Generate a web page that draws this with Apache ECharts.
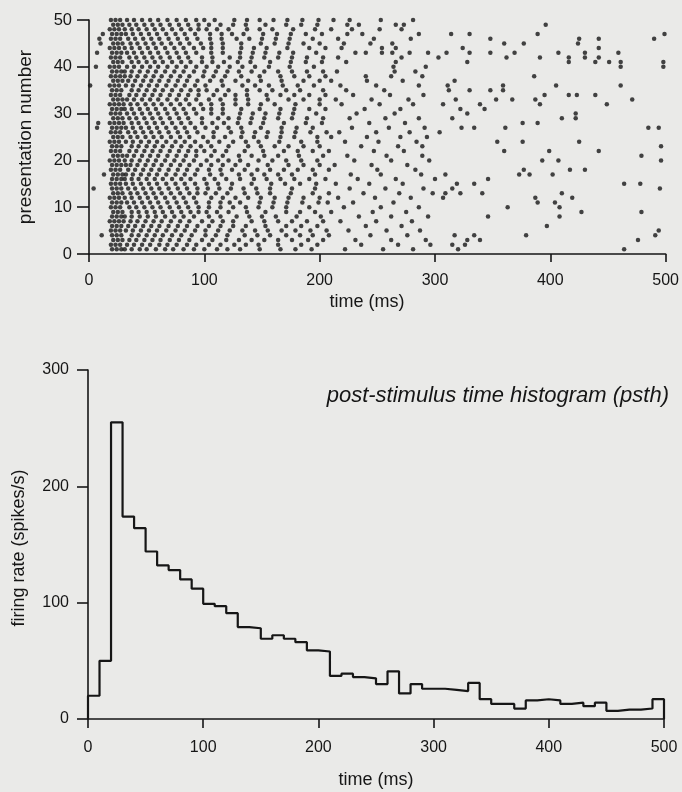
<!DOCTYPE html>
<html><head><meta charset="utf-8">
<script src="https://cdn.jsdelivr.net/npm/echarts@6/dist/echarts.min.js"></script>
<style>html,body{margin:0;padding:0;background:#eaeae8}#c{width:682px;height:792px}</style>
</head><body><div id="c"></div>
<script>
// ---------- DATA ----------
const timeTicks = [0, 100, 200, 300, 400, 500];
const presentationTicks = [0, 10, 20, 30, 40, 50];
const rateTicks = [0, 100, 200, 300];

// PSTH: 10 ms bins (start of each bin, ms) and firing rate (spikes/s)
const binStartsMs = [0,10,20,30,40,50,60,70,80,90,100,110,120,130,140,150,160,170,180,190,200,210,220,230,240,250,260,270,280,290,300,310,320,330,340,350,360,370,380,390,400,410,420,430,440,450,460,470,480,490];
const firingRate = [20,50,255,174,164,144,132,128,120,112,99,97,91,79,78,69,72,69,66,59,58,37,39,36,35,30,41,22,30,26,26,25,24,31,17,13,13,9,16,17,16,13,14,11,14,7,8,8,9,17];

// Raster: spike times (ms) for presentation numbers 1..50
const spikeTrains = [
[20,24,28,31,37,44,50,58,66,73,82,91,100,111,120,131,148,166,179,193,222,255,281,320,464],
[19,23,27,33,39,46,53,61,68,76,85,93,104,114,126,136,147,164,184,198,236,268,296,315,326],
[21,25,29,35,41,48,55,62,70,78,87,98,107,119,130,141,152,164,176,190,203,231,262,292,328,339,476],
[11,20,24,28,37,43,50,57,64,72,80,89,101,110,120,135,146,157,171,183,194,208,244,276,317,334,379,491],
[19,23,27,32,38,45,52,59,67,75,83,92,101,112,122,133,144,155,167,179,192,206,225,258,287,494],
[20,24,28,34,40,47,54,61,69,77,85,94,104,114,125,136,153,171,184,198,240,271,397],
[18,22,26,30,36,42,49,56,63,71,79,87,98,107,116,125,141,152,164,176,189,203,218,249,280],
[20,24,28,31,37,44,51,58,66,74,82,91,104,114,128,139,150,162,180,201,234,262,294,346,408],
[21,25,29,37,43,50,57,64,72,80,88,95,102,111,121,137,153,171,183,196,210,246,275,427,479],
[19,23,27,35,41,48,55,62,70,78,86,95,104,114,125,136,147,159,171,191,221,253,286,363,408],
[20,24,28,33,39,46,53,60,68,76,84,93,104,114,122,131,148,160,172,185,199,207,229,264,389,404],
[18,22,26,31,37,44,51,58,66,74,82,91,106,116,127,138,149,161,173,186,200,216,248,279,307,387,419],
[21,25,29,36,42,49,56,63,71,79,87,94,101,110,120,135,146,157,175,194,208,238,269,298,309,322,341,410],
[4,20,24,28,34,40,47,54,61,69,77,85,94,103,113,123,134,145,157,176,196,226,257,290,315,495],
[19,23,27,32,38,45,52,59,67,75,83,92,102,112,124,141,158,170,183,197,214,243,272,319,334,464,478],
[20,24,28,31,37,43,50,57,64,72,80,88,100,109,119,131,143,154,166,178,191,205,233,266,300,346],
[13,21,25,29,32,38,45,52,59,67,75,83,92,105,115,130,141,152,164,176,196,227,253,288,309,373,382,402],
[19,23,27,34,40,47,54,61,69,77,85,94,104,114,124,135,146,157,169,181,194,208,250,283,377,417,430],
[20,24,28,32,36,42,49,56,63,71,79,87,97,106,116,127,138,155,173,186,200,213,245,276],
[18,22,26,31,37,44,51,58,66,74,82,91,102,112,121,131,147,159,171,184,198,230,262,295,393,407,496],
[21,25,29,33,39,46,53,60,68,76,84,93,106,116,130,141,152,164,182,203,224,258,289,479],
[19,23,27,35,41,48,55,62,70,78,86,93,100,109,119,135,151,169,181,194,208,247,273,360,399,442],
[20,24,28,37,43,50,57,64,72,80,88,97,106,121,138,149,161,173,186,200,236,268,289,496],
[18,22,26,32,38,45,52,59,67,75,83,92,103,113,125,136,147,165,184,198,222,251,284,354,376,425],
[21,25,29,36,42,49,56,63,71,79,87,99,108,118,132,143,154,166,178,198,210,241,270,293],
[19,23,27,34,40,47,54,61,69,77,85,94,108,123,133,144,155,167,179,192,206,217,249,278,304],
[7,20,24,28,32,38,45,52,59,67,75,83,92,101,111,121,132,149,167,180,194,228,260,291,323,334,361,485,494],
[8,18,22,26,30,37,43,50,57,64,72,80,88,98,107,117,129,140,151,169,188,202,243,274,376,389],
[21,25,29,35,41,48,55,62,70,78,86,98,112,121,130,141,152,164,176,189,203,226,257,286,315,410,422],
[19,23,27,33,39,46,53,60,68,76,84,93,106,116,131,142,153,165,177,197,232,265,328,422],
[20,24,28,31,37,44,51,58,66,74,82,91,99,106,116,132,148,166,178,191,205,239,270,322,343],
[18,22,26,30,36,42,49,56,63,71,79,87,97,106,116,127,138,149,161,179,200,219,252,281,307,339,391,449],
[21,25,29,33,39,46,53,60,68,76,84,93,104,114,127,138,155,173,186,200,214,245,277,318,353,367,387,471],
[19,23,27,35,41,48,55,62,70,78,86,95,108,118,127,137,154,166,178,191,205,229,261,290,395,416,423,439],
[20,24,28,37,43,50,57,64,72,80,88,95,102,111,121,137,148,159,171,183,203,223,256,312,330,348,359],
[1,18,22,26,32,38,45,52,59,67,75,83,92,101,116,133,144,156,168,181,195,218,249,286,311,359,405,461],
[21,25,29,34,40,47,54,61,69,77,85,94,105,115,127,138,149,167,186,200,210,241,272,317],
[19,23,27,31,36,42,49,56,63,71,79,87,99,108,118,132,148,166,178,191,205,240,262,289,386],
[20,24,28,31,37,44,51,58,66,74,82,91,100,110,120,130,141,152,164,176,189,203,215,265,283],
[6,18,22,26,33,39,46,53,60,68,76,84,93,102,112,122,133,144,156,174,195,264,292,461,498],
[21,25,29,37,43,50,57,64,72,80,88,98,107,117,129,140,157,175,188,202,223,266,328,416,439,451,461,498],
[19,23,27,35,41,48,55,62,70,78,86,98,107,122,131,141,152,164,176,189,203,216,271,303,362,391,416,430,442],
[7,20,24,28,33,39,46,53,60,68,76,84,93,106,116,131,142,153,165,177,197,231,240,254,263,278,294,310,330,348,369,407,430,459],
[18,22,26,31,37,44,51,58,66,74,82,91,99,106,116,132,143,154,172,191,205,219,254,266,324,442],
[10,21,25,29,36,42,49,56,63,71,79,87,97,106,116,132,149,161,173,186,200,221,244,263,360,377,424],
[9,19,23,27,34,40,47,54,61,69,77,85,94,105,115,128,139,150,162,174,194,216,247,279,348,425,442,490],
[12,20,24,28,32,38,45,52,59,67,75,83,92,105,115,124,134,151,163,175,188,202,224,237,286,314,330,389,499],
[18,22,26,31,37,43,50,57,64,72,80,88,95,102,111,121,137,148,159,177,196,210,228,252,271],
[21,25,29,35,41,48,55,62,70,78,86,95,104,114,125,136,153,171,184,198,224,234,266,273,396],
[19,23,27,33,39,46,53,60,68,76,84,93,100,109,126,137,148,160,172,185,199,212,226,253,281]
];

// ---------- BUILD ----------
const INK = '#161616';
const FONT = '"Liberation Sans", Arial, Helvetica, sans-serif';

const rasterPoints = [];
spikeTrains.forEach((train, i) => {
  train.forEach(t => rasterPoints.push([t, i + 1]));
});

const psthPoints = [[binStartsMs[0], 0]];
binStartsMs.forEach((b, i) => psthPoints.push([b, firingRate[i]]));
psthPoints.push([timeTicks[timeTicks.length - 1], firingRate[firingRate.length - 1]]);
psthPoints.push([timeTicks[timeTicks.length - 1], 0]);

function axisCommon(extra) {
  return Object.assign({
    type: 'value',
    axisLine: { show: true, onZero: false, lineStyle: { color: INK, width: 1.6 } },
    splitLine: { show: false }
  }, extra);
}

const chart = echarts.init(document.getElementById('c'), null, { renderer: 'canvas' });
chart.setOption({
  backgroundColor: '#eaeae8',
  animation: false,
  grid: [
    { left: 89, right: 15, top: 20, height: 234 },
    { left: 88, right: 18, top: 370, height: 349 }
  ],
  xAxis: [
    axisCommon({ gridIndex: 0, min: timeTicks[0], max: timeTicks[timeTicks.length - 1], interval: 100,
      axisTick: { show: true, length: 8, lineStyle: { color: INK, width: 1.6 } },
      axisLabel: { color: INK, fontSize: 16, fontFamily: FONT, margin: 19 } }),
    axisCommon({ gridIndex: 1, min: timeTicks[0], max: timeTicks[timeTicks.length - 1], interval: 100,
      axisTick: { show: true, length: 9, lineStyle: { color: INK, width: 1.6 } },
      axisLabel: { color: INK, fontSize: 16, fontFamily: FONT, margin: 21 } })
  ],
  yAxis: [
    axisCommon({ gridIndex: 0, min: presentationTicks[0], max: presentationTicks[presentationTicks.length - 1], interval: 10,
      axisTick: { show: true, length: 12, lineStyle: { color: INK, width: 1.6 } },
      axisLabel: { color: INK, fontSize: 16.5, fontFamily: FONT, margin: 17 } }),
    axisCommon({ gridIndex: 1, min: rateTicks[0], max: rateTicks[rateTicks.length - 1], interval: 100,
      axisTick: { show: true, length: 11, lineStyle: { color: INK, width: 1.6 } },
      axisLabel: { color: INK, fontSize: 16, fontFamily: FONT, margin: 19 } })
  ],
  series: [
    { type: 'scatter', xAxisIndex: 0, yAxisIndex: 0, data: rasterPoints,
      symbol: 'circle', symbolSize: 4.5, itemStyle: { color: INK }, silent: true },
    { type: 'line', xAxisIndex: 1, yAxisIndex: 1, data: psthPoints, step: 'end',
      showSymbol: false, lineStyle: { color: INK, width: 2.2 }, silent: true }
  ],
  graphic: [
    { type: 'text', x: 26, y: 137, rotation: Math.PI / 2,
      style: { text: 'presentation number', font: '19px ' + FONT, fill: INK, align: 'center', verticalAlign: 'middle', textAlign: 'center', textVerticalAlign: 'middle' } },
    { type: 'text', x: 367, y: 302,
      style: { text: 'time (ms)', font: '18px ' + FONT, fill: INK, align: 'center', verticalAlign: 'middle', textAlign: 'center', textVerticalAlign: 'middle' } },
    { type: 'text', x: 19, y: 548, rotation: Math.PI / 2,
      style: { text: 'firing rate (spikes/s)', font: '18px ' + FONT, fill: INK, align: 'center', verticalAlign: 'middle', textAlign: 'center', textVerticalAlign: 'middle' } },
    { type: 'text', x: 376, y: 780,
      style: { text: 'time (ms)', font: '18px ' + FONT, fill: INK, align: 'center', verticalAlign: 'middle', textAlign: 'center', textVerticalAlign: 'middle' } },
    { type: 'text', x: 669, y: 396,
      style: { text: 'post-stimulus time histogram (psth)', font: 'italic 22px ' + FONT, fill: INK, align: 'right', verticalAlign: 'middle', textAlign: 'right', textVerticalAlign: 'middle' } }
  ]
});
</script>
</body></html>
